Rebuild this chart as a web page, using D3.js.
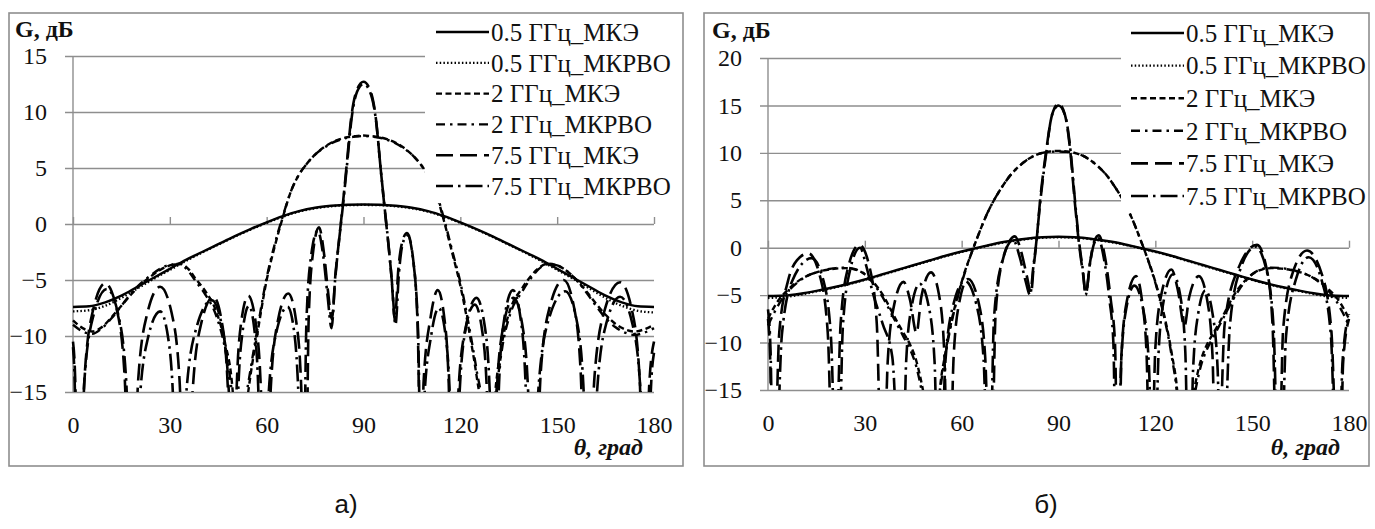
<!DOCTYPE html>
<html><head><meta charset="utf-8">
<script src="https://cdn.jsdelivr.net/npm/d3@7/dist/d3.min.js"></script>
<style>
body{margin:0;background:#fff}
svg{display:block}
svg text{font-family:"Liberation Serif","Times New Roman","DejaVu Serif",serif;}
svg text.sub{font-family:"Liberation Sans",Arial,"DejaVu Sans",sans-serif;}
</style>
</head><body>
<svg id="chart" width="1375" height="529"></svg>
<script>
// ---------------- DATA ----------------
const seriesNames = ["0.5 ГГц_МКЭ","0.5 ГГц_МКРВО","2 ГГц_МКЭ","2 ГГц_МКРВО","7.5 ГГц_МКЭ","7.5 ГГц_МКРВО"];
const xTicks = [0,30,60,90,120,150,180];
const yTicksA = [-15,-10,-5,0,5,10,15];
const yTicksB = [-15,-10,-5,0,5,10,15,20];
const panelLabels = ["а)","б)"];

// 0.5 GHz, 5-degree grid
const theta5 = [0,5,10,15,20,25,30,35,40,45,50,55,60,65,70,75,80,85,90,95,100,105,110,115,120,125,130,135,140,145,150,155,160,165,170,175,180];
const a05MKE = [-7.4,-7.35,-7.0,-6.4,-5.6,-4.8,-4.0,-3.2,-2.5,-1.8,-1.1,-0.45,0.15,0.7,1.15,1.45,1.62,1.72,1.75,1.72,1.62,1.45,1.15,0.7,0.15,-0.45,-1.1,-1.8,-2.5,-3.2,-4.0,-4.8,-5.6,-6.4,-7.0,-7.35,-7.4];
const a05MKRVO = [-7.8,-7.7,-7.3,-6.6,-5.75,-4.9,-4.1,-3.3,-2.55,-1.85,-1.15,-0.5,0.1,0.65,1.1,1.4,1.58,1.68,1.7,1.68,1.58,1.4,1.1,0.65,0.1,-0.5,-1.15,-1.85,-2.55,-3.3,-4.1,-4.9,-5.75,-6.6,-7.3,-7.75,-7.9];
const b05MKE = [-5.1,-5.05,-4.85,-4.55,-4.2,-3.8,-3.35,-2.85,-2.35,-1.85,-1.35,-0.85,-0.4,0.0,0.4,0.7,0.95,1.1,1.15,1.1,0.95,0.7,0.4,0.0,-0.4,-0.85,-1.35,-1.85,-2.35,-2.85,-3.35,-3.8,-4.2,-4.55,-4.85,-5.05,-5.1];
const b05MKRVO = [-5.3,-5.2,-4.95,-4.6,-4.25,-3.85,-3.4,-2.9,-2.4,-1.9,-1.4,-0.9,-0.45,-0.05,0.35,0.65,0.9,1.05,1.1,1.05,0.9,0.65,0.35,-0.05,-0.45,-0.9,-1.4,-1.9,-2.4,-2.9,-3.4,-3.85,-4.25,-4.6,-4.95,-5.2,-5.3];

// 2 GHz
const a2Theta = [0,3,6,9,12,15,18,21,24,27,30,33,36,38,41,44.5,47,49.5,51.5,53.5,55,57,60,62.5,65,67.5,70,72.5,75,77.5,80,82.5,85,87.5,90,92.5,95,97.5,100,102.5,105,107.5,110,112.5,115,117.5,120,123,125,127,128.5,130.5,133,135.5,139,142,144,147,150,153,156,159,162,165,168,171,174,177,180];
const a2MKE = [-8.6,-9.3,-9.6,-9.2,-8.3,-7.3,-6.3,-5.4,-4.7,-4.1,-3.7,-3.55,-4.1,-4.9,-6.0,-7.9,-10.5,-15,-25,-17,-13.5,-10,-5.0,-2.0,0.6,2.9,4.4,5.4,6.2,6.8,7.25,7.55,7.75,7.85,7.9,7.85,7.75,7.55,7.25,6.8,6.2,5.4,4.3,2.7,0.2,-2.6,-5.5,-10,-13.5,-18,-25,-16,-10.5,-7.6,-5.8,-4.6,-4.0,-3.55,-3.7,-4.2,-5.0,-6.0,-7.1,-8.1,-8.9,-9.4,-9.6,-9.4,-9.0];
const a2MKRVO = [-9.0,-9.6,-9.8,-9.3,-8.4,-7.3,-6.2,-5.3,-4.6,-4.0,-3.65,-3.6,-4.3,-5.1,-6.3,-8.3,-11,-16,-25,-16,-13,-9.6,-4.8,-1.8,0.7,2.9,4.4,5.4,6.2,6.75,7.2,7.5,7.7,7.8,7.85,7.8,7.7,7.5,7.2,6.75,6.2,5.4,4.4,2.8,0.4,-2.4,-5.2,-9.6,-13,-17,-25,-17,-11,-8.0,-6.1,-4.8,-4.1,-3.6,-3.7,-4.2,-5.0,-6.1,-7.3,-8.4,-9.2,-9.7,-9.9,-9.7,-9.3];
const b2Theta = [0,2,4,6,9,12,15,18,21,24,27,30,32,34,36,38,40,42,44,46,48,50,51.5,53,55,57,59,61,63,65,67.5,70,72.5,75,77.5,80,82.5,85,87.5,90,92.5,95,97.5,100,102.5,105,107.5,110,112.5,115,117,119,121,123,125,127,128.5,130,132,134,136,138,140,142,144,146,148,150,153,156,159,162,165,168,171,174,176,178,180];
const b2MKE = [-7.5,-6.2,-5.2,-4.5,-3.6,-3.0,-2.6,-2.35,-2.2,-2.15,-2.3,-2.8,-3.4,-4.2,-5.2,-6.5,-7.8,-9.0,-10.2,-12,-15,-19,-25,-16,-11,-7.5,-4.8,-2.5,-0.6,1.2,3.3,5.0,6.4,7.6,8.5,9.2,9.7,10.0,10.15,10.2,10.15,10.0,9.7,9.2,8.5,7.6,6.4,5.0,3.3,1.2,-0.6,-2.5,-4.8,-7.5,-11,-16,-25,-19,-15,-12,-10.2,-9.0,-7.8,-6.5,-5.2,-4.2,-3.4,-2.8,-2.3,-2.15,-2.2,-2.35,-2.6,-3.0,-3.6,-4.5,-5.2,-6.2,-7.5];
const b2MKRVO = [-8.2,-6.8,-5.6,-4.7,-3.7,-3.0,-2.6,-2.3,-2.15,-2.1,-2.25,-2.8,-3.5,-4.4,-5.5,-6.8,-8.1,-9.4,-10.7,-12.6,-15.8,-20,-25,-16.5,-11.3,-7.7,-4.9,-2.6,-0.6,1.2,3.3,5.0,6.4,7.6,8.5,9.2,9.7,10.0,10.1,10.15,10.1,10.0,9.7,9.2,8.5,7.6,6.4,5.0,3.3,1.2,-0.6,-2.6,-4.9,-7.7,-11.3,-16.5,-25,-20,-15.8,-12.6,-10.7,-9.4,-8.1,-6.8,-5.5,-4.4,-3.5,-2.8,-2.25,-2.1,-2.15,-2.3,-2.6,-3.0,-3.7,-4.7,-5.6,-6.8,-8.2];

// 7.5 GHz, [theta, G] pairs
const a75MKE = [[0,-10.5],[0.7,-14],[1.5,-30],[3.6,-13.6],[6.2,-7.7],[10,-5.3],[13.6,-7.7],[16,-13.6],[18,-30],
[20.2,-13.9],[23,-8.0],[27,-5.6],[30.6,-8.0],[33,-13.9],[35,-30],
[37.1,-14.8],[39.7,-8.9],[43.5,-6.5],[46.2,-8.9],[48,-14.8],[49.5,-30],
[50.7,-14.7],[52.1,-8.8],[54.3,-6.4],[56.6,-8.8],[58.2,-14.7],[59.5,-30],
[61.3,-14.5],[63.5,-8.6],[66.7,-6.2],[69.1,-8.6],[70.7,-14.5],[72,-30],
[73,-8.6],[74.3,-2.7],[76.2,-0.3],[77.8,-2.7],[79,-6],[80.2,-8.5],
[81.3,-4.5],[82.4,-1.5],[83.5,1.5],[84.7,5],[86.2,9.5],[88,12],[90,12.7],[92,12],[93.8,9.5],[95.3,5],[96.5,1.5],[97.6,-1.5],[98.7,-4.8],[99.7,-8.6],
[100.8,-4],[102,-1.6],[103.5,-0.8],[105.4,-3.2],[106.8,-9.3],[108,-30],
[108.6,-14.2],[110.8,-8.3],[113,-5.9],[115,-8.3],[116.4,-14.2],[117.5,-30],
[119.3,-15.5],[121.4,-9.6],[124.5,-7.2],[126.8,-9.6],[128.3,-15.5],[129.5,-30],
[131.3,-14.9],[133.4,-9.0],[136.5,-6.6],[139.2,-9.0],[141,-14.9],[142.5,-30],
[144.9,-13.3],[147.7,-7.4],[152,-5.0],[155.2,-7.4],[157.3,-13.3],[159,-30],
[161.6,-13.5],[164.8,-7.6],[169.5,-5.2],[173.1,-7.6],[175.5,-13.5],[177.5,-30],
[178.5,-14.5],[180,-10.5]];
const a75MKRVO = [[0,-11],[0.6,-15],[1.2,-30],[3.5,-14.1],[6.3,-8.2],[10.5,-5.8],[14.1,-8.2],[16.5,-14.1],[18.5,-30],
[20.6,-16.1],[23.2,-10.2],[27,-7.8],[29.5,-10.2],[31.1,-16.1],[32.5,-30],
[35.1,-15.1],[38.3,-9.2],[43,-6.8],[46.2,-9.2],[48.3,-15.1],[50,-30],
[51.1,-15.6],[52.5,-9.7],[54.5,-7.3],[56.3,-9.7],[57.5,-15.6],[58.5,-30],
[60.5,-15.7],[62.9,-9.8],[66.5,-7.4],[68.6,-9.8],[69.9,-15.7],[71.2,-30],
[72.3,-8.9],[73.7,-3],[75.8,-0.6],[77.6,-3],[78.9,-6.5],[80.1,-9.3],
[81.2,-5],[82.3,-1.8],[83.5,1.3],[84.8,5],[86.3,9.4],[88,11.8],[90,12.5],[92,11.8],[93.8,9.4],[95.3,5],[96.6,1.3],[97.8,-2],[98.9,-5.5],[99.9,-9.0],
[101,-4.3],[102.1,-1.8],[103.6,-1.0],[105.5,-3.5],[106.9,-9.6],[108.2,-30],
[108.8,-15.8],[111,-9.9],[113.3,-7.5],[115.4,-9.9],[116.8,-15.8],[118,-30],
[119.8,-14.9],[121.9,-9.0],[125,-6.6],[127.5,-9.0],[129.1,-14.9],[130.5,-30],
[132,-14.2],[133.7,-8.3],[136.3,-5.9],[138.6,-8.3],[140.2,-14.2],[141.5,-30],
[144.3,-14.3],[147.5,-8.4],[152.5,-6.0],[155.9,-8.4],[158.1,-14.3],[160,-30],
[162.4,-14.8],[165.2,-8.9],[169.5,-6.5],[173.3,-8.9],[175.8,-14.8],[178,-30],
[179,-15],[180,-11.5]];
const b75MKE = [[0,-7.5],[0.7,-12],[1.5,-30],[3.5,-8.9],[6.2,-3.5],[9,-1.3],[12.5,-0.6],[16.1,-3.0],[18.5,-8.9],[20.5,-30],
[22.5,-8.0],[24.8,-2.1],[28.3,0.3],[31.5,-2.1],[33.7,-8.0],[35.5,-30],
[37.1,-11.9],[39.1,-6],[42,-3.6],[44,-5.5],[46,-9],
[47.5,-5.2],[50.5,-2.6],[53,-5],[54.6,-10.9],[56,-30],
[57.5,-11.6],[59.3,-5.7],[62,-3.3],[65.2,-5.7],[67.3,-11.6],[69,-30],
[70.5,-7],[72.8,-1.2],[76.5,1.2],[78.5,-0.5],[80.2,-3],[81.5,-4.8],
[82.3,-2],[83,0],[84.3,5],[86.1,10],[88,14],[90,15.2],[92,14],[93.7,10],[95,5],[96.5,0],[97.5,-2.5],[98.5,-4.8],
[99.8,-1.5],[101,0.6],[102.5,1.3],[104.3,-0.8],[106.2,-5.5],[107.5,-10],[108.5,-30],
[109.5,-11.3],[111.3,-5.4],[114,-3.0],[115.8,-5.4],[117.3,-11.3],[118.5,-30],
[120,-10.6],[122,-4.7],[125,-2.3],[127,-4.5],[129,-8.3],
[130.5,-5.2],[133.5,-3.0],[136,-5.4],[137.7,-11.3],[139,-30],
[141.5,-8.0],[145.8,-2.1],[151.5,0.3],[154.4,-2.1],[156.3,-8.0],[158,-30],
[159.6,-8.6],[162.5,-2.7],[167,-0.3],[171.5,-2.7],[174.5,-8.6],[177,-30],
[178.2,-12],[180,-7.5]];
const b75MKRVO = [[0,-6.5],[0.8,-11],[1.8,-30],[4.3,-9.2],[7.5,-3.5],[13.5,-1.1],[17.2,-3.5],[19.5,-9.4],[21.5,-30],
[23.2,-8.3],[25.4,-2.4],[28.5,0],[30.5,-2],[32.5,-4.8],[35.5,-8],[38.5,-11.5],[41.5,-30],
[42.8,-12],[44.5,-6.2],[47,-3.8],[49.8,-6.2],[51.6,-12],[53,-30],
[55,-11.8],[57.5,-5.9],[61,-3.5],[64.5,-5.9],[66.8,-11.8],[68.5,-30],
[70,-7.5],[72.5,-1.5],[76,0.8],[78,-1],[79.8,-3.5],[81.2,-5],
[82.2,-2],[83,0.2],[84.4,5],[86.2,10],[88,14],[90,15.0],[92,14],[93.8,10],[95.1,5],[96.6,0],[97.6,-2.5],[98.4,-5],
[99.7,-1.8],[101,0.4],[102.3,1.0],[104,-1],[105.8,-5.5],[107,-10],[108,-30],
[109.4,-12.3],[111,-6.4],[113.5,-4.0],[116.2,-6.4],[118,-12.3],[119.5,-30],
[121,-11.1],[122.8,-5.2],[125.5,-2.8],[127.8,-5.2],[129.3,-11.1],[130.5,-30],
[131.7,-12.8],[133.3,-6.9],[135.5,-4.5],[137.7,-6.9],[139.3,-12.8],[140.5,-30],
[143.1,-8.2],[146.3,-2.3],[151,0.1],[154.4,-2.3],[156.6,-8.2],[158.5,-30],
[160.5,-9.3],[163.5,-3.4],[167.5,-1.0],[171.5,-3.4],[174.4,-9.3],[176.5,-30],
[178,-12],[180,-7]];

// ---------------- RENDER ----------------
const svg = d3.select('#chart');
const GRID = '#8e8e8e';
const lineStyles = [
  {dash:null, w:2.5},
  {dash:'1.5,2.2', w:2.3},
  {dash:'6,3.5', w:2.4},
  {dash:'9,5,2.5,5', w:2.4},
  {dash:'17,7', w:2.6},
  {dash:'17,5,2.5,5', w:2.6}
];
const zip = (t, v) => t.map((d, i) => [d, v[i]]);

const panels = [
  {id:'a', box:[9,13,683,466], left:73, right:654, top:56, bottom:392, yDomain:[-15,15], yTicks:yTicksA,
   series:[zip(theta5,a05MKE), zip(theta5,a05MKRVO), zip(a2Theta,a2MKE), zip(a2Theta,a2MKRVO), a75MKE, a75MKRVO],
   legend:{x0:425, y0:15, x1:681, y1:203, lx0:436, lx1:489, tx:491, ry0:32, rdy:30.8},
   gx:15, gy:37, thx:643, thy:455, lab:panelLabels[0], labx:346, laby:513},
  {id:'b', box:[704,13,1369,466], left:768, right:1349, top:58, bottom:390, yDomain:[-15,20], yTicks:yTicksB,
   series:[zip(theta5,b05MKE), zip(theta5,b05MKRVO), zip(b2Theta,b2MKE), zip(b2Theta,b2MKRVO), b75MKE, b75MKRVO],
   legend:{x0:1121, y0:15, x1:1367, y1:212, lx0:1131, lx1:1184, tx:1186, ry0:33, rdy:32.6},
   gx:712, gy:38, thx:1340, thy:455, lab:panelLabels[1], labx:1046, laby:513}
];

panels.forEach(p => {
  const g = svg.append('g');
  const x = d3.scaleLinear().domain([0,180]).range([p.left, p.right]);
  const y = d3.scaleLinear().domain(p.yDomain).range([p.bottom, p.top]);

  g.append('rect').attr('x',p.box[0]).attr('y',p.box[1])
    .attr('width',p.box[2]-p.box[0]).attr('height',p.box[3]-p.box[1])
    .attr('fill','#fff').attr('stroke',GRID).attr('stroke-width',1.6);

  // horizontal gridlines + y labels
  const yAx = g.append('g').attr('transform',`translate(${p.left-8},0)`)
    .call(d3.axisLeft(y).tickValues(p.yTicks).tickSize(-(p.right-p.left+8)).tickPadding(18).tickFormat(d3.format('d')));
  yAx.select('.domain').remove();
  yAx.selectAll('line').attr('stroke',GRID).attr('stroke-width',1.4);
  yAx.selectAll('text').attr('font-size',24).attr('fill','#111');

  // vertical axis line
  g.append('line').attr('x1',p.left).attr('x2',p.left).attr('y1',p.top).attr('y2',p.bottom)
    .attr('stroke',GRID).attr('stroke-width',1.4);

  // ticks on zero line
  const xTk = g.append('g').attr('transform',`translate(0,${y(0)})`)
    .call(d3.axisBottom(x).tickValues(xTicks).tickSize(-7).tickFormat(''));
  xTk.select('.domain').remove();
  xTk.selectAll('line').attr('stroke',GRID).attr('stroke-width',1.4);

  // x labels at bottom
  const xLab = g.append('g').attr('transform',`translate(0,${p.bottom})`)
    .call(d3.axisBottom(x).tickValues(xTicks).tickSize(0).tickPadding(24));
  xLab.select('.domain').remove();
  xLab.selectAll('text').attr('font-size',24).attr('fill','#111');

  // clip
  const cid = 'clip-' + p.id;
  svg.append('clipPath').attr('id',cid).append('rect')
    .attr('x',p.left-3).attr('y',p.top-10).attr('width',p.right-p.left+6).attr('height',p.bottom-p.top+10);

  const line = d3.line().x(d => x(d[0])).y(d => y(d[1])).curve(d3.curveMonotoneX);
  const cg = g.append('g').attr('clip-path',`url(#${cid})`);
  [4,5,2,3,1,0].forEach(i => {
    const st = lineStyles[i];
    cg.append('path').datum(p.series[i]).attr('d',line)
      .attr('fill','none').attr('stroke','#000').attr('stroke-width',st.w)
      .attr('stroke-linejoin','round')
      .attr('stroke-dasharray',st.dash);
  });

  // legend
  const L = p.legend;
  g.append('rect').attr('x',L.x0).attr('y',L.y0).attr('width',L.x1-L.x0).attr('height',L.y1-L.y0).attr('fill','#fff');
  seriesNames.forEach((name,i) => {
    const ry = L.ry0 + i*L.rdy;
    const st = lineStyles[i];
    g.append('line').attr('x1',L.lx0).attr('x2',L.lx1).attr('y1',ry).attr('y2',ry)
      .attr('stroke','#000').attr('stroke-width',st.w).attr('stroke-dasharray',st.dash);
    g.append('text').attr('x',L.tx).attr('y',ry).attr('dy','0.35em')
      .attr('font-size',25).attr('fill','#111').text(name);
  });

  // titles
  g.append('text').attr('x',p.gx).attr('y',p.gy).attr('font-size',24)
    .attr('font-weight','bold').attr('fill','#111').text('G, дБ');
  g.append('text').attr('x',p.thx).attr('y',p.thy).attr('text-anchor','end')
    .attr('font-size',24).attr('font-weight','bold').attr('font-style','italic').attr('fill','#111').text('θ, град');
  svg.append('text').attr('class','sub').attr('x',p.labx).attr('y',p.laby).attr('text-anchor','middle')
    .attr('font-size',26).attr('fill','#111').text(p.lab);
});
</script>
</body></html>
